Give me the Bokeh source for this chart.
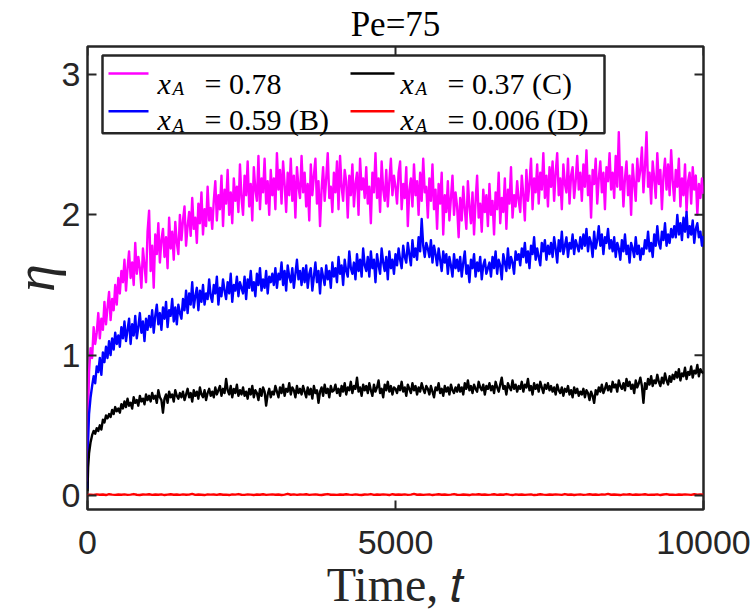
import math
from bokeh.plotting import figure
from bokeh.models import Range1d, FixedTicker, Label, BoxAnnotation, Arrow
from bokeh.embed import file_html
from bokeh.resources import INLINE

# ---------------- data ----------------
TITLE = "Pe=75"
X_LABEL = "Time, 𝑡"
Y_LABEL = "η"
X_TICKS = [0, 5000, 10000]
Y_TICKS = [0, 1, 2, 3]

time = [0, 10] + list(range(25, 10001, 25))
time_coarse = [0, 10, 25] + list(range(50, 10001, 50))

eta_078 = [0.10, 0.60,
    0.88, 1.05, 0.98, 1.20, 1.08, 1.16, 1.30, 1.12, 1.26, 1.18, 1.38, 1.22, 1.34, 1.45, 1.25, 1.40, 1.32, 1.50, 1.36, 1.55,
    1.44, 1.60, 1.52, 1.68, 1.46, 1.62, 1.74, 1.55, 1.66, 1.50, 1.80, 1.58, 1.70, 1.62, 1.48, 1.76, 1.64, 1.52, 1.88, 2.03,
    1.60, 1.78, 1.48, 1.86, 1.72, 1.94, 1.66, 1.82, 1.90, 1.70, 1.84, 1.62, 1.98, 1.76, 1.88, 1.68, 1.95, 1.80, 1.72, 2.00,
    1.82, 1.96, 2.06, 1.78, 1.92, 2.02, 1.85, 2.12, 1.90, 1.98, 1.80, 2.08, 1.94, 2.16, 1.86, 2.04, 1.92, 2.20, 1.96, 2.05,
    1.90, 2.10, 2.24, 1.96, 2.14, 2.04, 2.28, 1.92, 2.18, 2.08, 2.32, 2.00, 2.16, 1.94, 2.26, 2.10, 2.20, 2.02, 2.36, 2.12,
    2.00, 2.28, 2.14, 2.38, 2.06, 2.22, 1.96, 2.34, 2.18, 2.10, 2.42, 2.04, 2.26, 2.16, 2.40, 2.08, 2.24, 2.00, 2.32, 2.14,
    2.26, 2.04, 2.44, 2.18, 2.32, 2.08, 2.38, 2.22, 2.02, 2.30, 2.14, 2.40, 2.10, 2.28, 1.98, 2.34, 2.20, 2.12, 2.42, 2.16,
    2.30, 2.06, 2.22, 1.96, 2.36, 2.14, 2.28, 2.40, 2.08, 2.24, 1.92, 2.18, 2.34, 2.10, 2.26, 2.44, 2.12, 2.20, 2.02, 2.30,
    2.16, 2.38, 2.04, 2.42, 2.20, 2.10, 2.32, 2.24, 1.98, 2.28, 2.14, 2.36, 2.06, 2.22, 2.30, 2.00, 2.40, 2.18, 2.26, 2.12,
    2.34, 2.08, 2.20, 1.94, 2.30, 2.16, 2.44, 2.12, 2.26, 2.02, 2.38, 2.18, 2.10, 2.32, 2.06, 2.24, 2.40, 2.14, 2.28, 2.20,
    2.08, 2.30, 2.38, 2.04, 2.22, 2.12, 2.34, 1.92, 2.18, 2.26, 2.06, 2.36, 2.14, 2.24, 2.00, 2.30, 2.10, 2.40, 2.16, 2.20,
    1.98, 2.26, 2.10, 2.36, 2.04, 2.18, 1.90, 2.22, 2.08, 2.30, 1.86, 2.14, 2.02, 2.24, 1.96, 2.12, 2.28, 2.00, 2.16, 2.06,
    1.84, 2.12, 1.96, 2.20, 2.04, 1.90, 2.24, 2.06, 1.94, 2.16, 1.86, 2.10, 2.28, 1.98, 2.08, 1.88, 2.18, 2.02, 2.14, 1.92,
    2.22, 2.00, 2.10, 1.86, 2.16, 2.04, 2.30, 1.94, 2.12, 2.02, 2.26, 1.90, 2.18, 2.08, 2.34, 1.98, 2.14, 2.06, 2.24, 2.10,
    2.02, 2.28, 2.14, 1.96, 2.32, 2.10, 2.22, 2.40, 2.04, 2.26, 2.16, 2.36, 2.08, 2.30, 2.18, 2.44, 2.12, 2.28, 2.06, 2.34,
    2.20, 2.38, 2.10, 2.30, 2.44, 2.14, 2.26, 2.04, 2.36, 2.22, 2.16, 2.40, 2.08, 2.28, 2.34, 2.12, 2.24, 2.42, 2.18, 2.30,
    2.10, 2.36, 2.20, 2.46, 2.14, 2.28, 1.98, 2.32, 2.22, 2.40, 2.08, 2.26, 2.38, 2.16, 2.30, 2.04, 2.34, 2.24, 2.44, 2.18,
    2.30, 2.12, 2.42, 2.20, 2.59, 2.18, 2.34, 2.06, 2.26, 2.38, 2.14, 2.28, 2.00, 2.36, 2.22, 2.10, 2.40, 2.24, 2.32, 2.48,
    2.16, 2.34, 2.59, 2.20, 2.30, 2.08, 2.38, 2.26, 2.12, 2.44, 2.22, 2.32, 2.04, 2.28, 2.40, 2.18, 2.36, 2.14, 2.46, 2.24,
    2.10, 2.32, 2.20, 2.40, 2.06, 2.26, 2.14, 2.36, 2.02, 2.24, 2.30, 2.08, 2.34, 2.18, 2.28, 2.00, 2.22, 2.12, 2.26, 2.15]

eta_059 = [0.05, 0.40,
    0.58, 0.70, 0.78, 0.85, 0.80, 0.92, 0.88, 0.98, 0.86, 1.02, 0.95, 1.06, 0.98, 1.10, 1.00, 1.12, 1.04, 1.16, 1.08, 1.14,
    1.06, 1.20, 1.12, 1.24, 1.10, 1.18, 1.26, 1.08, 1.22, 1.14, 1.28, 1.12, 1.20, 1.30, 1.16, 1.24, 1.10, 1.26, 1.18, 1.28,
    1.20, 1.32, 1.16, 1.28, 1.36, 1.22, 1.30, 1.18, 1.34, 1.26, 1.38, 1.20, 1.32, 1.28, 1.40, 1.24, 1.34, 1.22, 1.36, 1.30,
    1.26, 1.40, 1.32, 1.46, 1.30, 1.44, 1.36, 1.52, 1.34, 1.42, 1.48, 1.32, 1.46, 1.38, 1.50, 1.36, 1.44, 1.40, 1.54, 1.42,
    1.38, 1.50, 1.44, 1.56, 1.36, 1.48, 1.42, 1.54, 1.46, 1.40, 1.52, 1.44, 1.58, 1.38, 1.50, 1.46, 1.56, 1.42, 1.52, 1.48,
    1.44, 1.56, 1.40, 1.54, 1.48, 1.60, 1.46, 1.52, 1.42, 1.58, 1.50, 1.62, 1.46, 1.54, 1.48, 1.60, 1.44, 1.56, 1.52, 1.58,
    1.50, 1.62, 1.48, 1.58, 1.54, 1.66, 1.50, 1.60, 1.46, 1.64, 1.56, 1.52, 1.62, 1.48, 1.58, 1.68, 1.54, 1.60, 1.50, 1.62,
    1.52, 1.64, 1.48, 1.58, 1.62, 1.46, 1.56, 1.66, 1.52, 1.60, 1.44, 1.62, 1.56, 1.50, 1.64, 1.54, 1.60, 1.48, 1.66, 1.56,
    1.62, 1.52, 1.70, 1.58, 1.64, 1.50, 1.68, 1.60, 1.56, 1.74, 1.62, 1.58, 1.66, 1.54, 1.72, 1.60, 1.68, 1.56, 1.76, 1.64,
    1.60, 1.70, 1.56, 1.74, 1.62, 1.68, 1.52, 1.72, 1.64, 1.58, 1.76, 1.66, 1.60, 1.70, 1.54, 1.74, 1.62, 1.68, 1.58, 1.72,
    1.64, 1.76, 1.68, 1.62, 1.78, 1.70, 1.66, 1.80, 1.72, 1.64, 1.82, 1.70, 1.76, 1.68, 1.84, 1.74, 1.97, 1.78, 1.70, 1.80,
    1.76, 1.70, 1.82, 1.66, 1.78, 1.72, 1.64, 1.76, 1.68, 1.60, 1.74, 1.66, 1.72, 1.58, 1.70, 1.64, 1.56, 1.72, 1.62, 1.68,
    1.60, 1.70, 1.56, 1.66, 1.74, 1.58, 1.64, 1.52, 1.68, 1.62, 1.72, 1.56, 1.66, 1.60, 1.70, 1.54, 1.64, 1.68, 1.58, 1.62,
    1.66, 1.56, 1.70, 1.62, 1.74, 1.58, 1.68, 1.64, 1.54, 1.72, 1.66, 1.60, 1.76, 1.62, 1.70, 1.66, 1.58, 1.74, 1.68, 1.72,
    1.64, 1.76, 1.70, 1.80, 1.66, 1.74, 1.62, 1.78, 1.72, 1.84, 1.68, 1.76, 1.70, 1.64, 1.80, 1.74, 1.82, 1.68, 1.78, 1.72,
    1.80, 1.70, 1.84, 1.76, 1.66, 1.82, 1.74, 1.88, 1.72, 1.78, 1.84, 1.70, 1.80, 1.76, 1.86, 1.72, 1.82, 1.78, 1.74, 1.84,
    1.76, 1.86, 1.78, 1.90, 1.74, 1.84, 1.80, 1.70, 1.88, 1.76, 1.82, 1.92, 1.78, 1.86, 1.72, 1.84, 1.80, 1.90, 1.76, 1.82,
    1.74, 1.84, 1.70, 1.80, 1.76, 1.68, 1.82, 1.74, 1.86, 1.72, 1.78, 1.66, 1.80, 1.76, 1.70, 1.84, 1.72, 1.78, 1.68, 1.76,
    1.72, 1.82, 1.76, 1.88, 1.74, 1.80, 1.70, 1.86, 1.78, 1.92, 1.80, 1.76, 1.88, 1.82, 1.94, 1.78, 1.86, 1.80, 1.90, 1.84,
    1.92, 1.84, 2.00, 1.86, 1.94, 1.82, 1.98, 1.88, 2.02, 1.84, 1.92, 1.86, 1.96, 1.80, 1.90, 1.94, 1.84, 1.88, 1.78, 1.85]

eta_037 = [0.03, 0.20,
    0.30, 0.38, 0.43, 0.46, 0.44, 0.48, 0.46, 0.50, 0.47, 0.54, 0.52, 0.57, 0.55, 0.58, 0.56, 0.61, 0.58, 0.63, 0.60, 0.62,
    0.59, 0.65, 0.62, 0.67, 0.63, 0.69, 0.64, 0.66, 0.62, 0.70, 0.66, 0.68, 0.64, 0.71, 0.67, 0.69, 0.65, 0.72, 0.68, 0.71,
    0.67, 0.73, 0.69, 0.71, 0.66, 0.75, 0.70, 0.68, 0.59, 0.69, 0.72, 0.66, 0.74, 0.70, 0.72, 0.67, 0.75, 0.71, 0.69, 0.73,
    0.70, 0.74, 0.68, 0.72, 0.76, 0.70, 0.73, 0.67, 0.75, 0.71, 0.74, 0.69, 0.77, 0.72, 0.70, 0.75, 0.68, 0.73, 0.76, 0.71,
    0.74, 0.70, 0.77, 0.72, 0.75, 0.78, 0.71, 0.76, 0.73, 0.83, 0.75, 0.72, 0.78, 0.70, 0.76, 0.73, 0.79, 0.71, 0.75, 0.72,
    0.77, 0.71, 0.74, 0.69, 0.76, 0.72, 0.78, 0.70, 0.75, 0.73, 0.68, 0.76, 0.71, 0.77, 0.74, 0.64, 0.72, 0.76, 0.70, 0.74,
    0.72, 0.78, 0.74, 0.70, 0.77, 0.73, 0.79, 0.71, 0.76, 0.74, 0.80, 0.72, 0.77, 0.75, 0.70, 0.78, 0.73, 0.76, 0.72, 0.78,
    0.74, 0.70, 0.77, 0.72, 0.76, 0.69, 0.78, 0.73, 0.75, 0.66, 0.74, 0.77, 0.71, 0.79, 0.73, 0.76, 0.70, 0.78, 0.74, 0.75,
    0.79, 0.73, 0.76, 0.71, 0.78, 0.74, 0.80, 0.72, 0.77, 0.75, 0.81, 0.73, 0.78, 0.76, 0.84, 0.74, 0.77, 0.71, 0.79, 0.75,
    0.78, 0.73, 0.80, 0.75, 0.71, 0.79, 0.74, 0.77, 0.82, 0.73, 0.76, 0.70, 0.79, 0.75, 0.81, 0.74, 0.78, 0.72, 0.77, 0.76,
    0.73, 0.78, 0.75, 0.81, 0.74, 0.77, 0.71, 0.79, 0.76, 0.73, 0.80, 0.75, 0.78, 0.72, 0.77, 0.74, 0.80, 0.76, 0.73, 0.78,
    0.76, 0.72, 0.78, 0.74, 0.70, 0.77, 0.75, 0.80, 0.73, 0.76, 0.71, 0.78, 0.74, 0.77, 0.72, 0.79, 0.75, 0.73, 0.77, 0.74,
    0.79, 0.74, 0.77, 0.72, 0.80, 0.76, 0.82, 0.75, 0.78, 0.73, 0.79, 0.76, 0.74, 0.81, 0.77, 0.75, 0.79, 0.72, 0.78, 0.76,
    0.80, 0.75, 0.78, 0.73, 0.81, 0.77, 0.74, 0.79, 0.84, 0.76, 0.78, 0.72, 0.80, 0.77, 0.75, 0.82, 0.76, 0.79, 0.74, 0.78,
    0.76, 0.81, 0.74, 0.79, 0.77, 0.83, 0.75, 0.78, 0.72, 0.80, 0.76, 0.79, 0.74, 0.81, 0.77, 0.73, 0.79, 0.76, 0.80, 0.75,
    0.78, 0.74, 0.77, 0.72, 0.79, 0.75, 0.73, 0.77, 0.71, 0.76, 0.74, 0.78, 0.72, 0.75, 0.70, 0.77, 0.73, 0.76, 0.71, 0.74,
    0.72, 0.76, 0.70, 0.75, 0.73, 0.68, 0.74, 0.71, 0.66, 0.75, 0.72, 0.77, 0.74, 0.79, 0.73, 0.76, 0.80, 0.75, 0.78, 0.74,
    0.81, 0.77, 0.79, 0.74, 0.82, 0.78, 0.76, 0.80, 0.75, 0.83, 0.78, 0.81, 0.76, 0.79, 0.73, 0.82, 0.77, 0.80, 0.84, 0.78,
    0.66, 0.80, 0.76, 0.83, 0.79, 0.85, 0.78, 0.82, 0.80, 0.86, 0.81, 0.78, 0.84, 0.80, 0.87, 0.82, 0.79, 0.85, 0.81, 0.86,
    0.83, 0.88, 0.84, 0.90, 0.82, 0.87, 0.85, 0.91, 0.83, 0.88, 0.86, 0.92, 0.84, 0.89, 0.87, 0.93, 0.85, 0.90, 0.88, 0.87]

eta_0006 = [0.000, 0.003, 0.005,
    0.006, 0.004, 0.008, 0.005, 0.007, 0.003, 0.009, 0.006, 0.004, 0.007,
    0.005, 0.008, 0.004, 0.006, 0.010, 0.005, 0.003, 0.007, 0.006, 0.009,
    0.004, 0.007, 0.005, 0.008, 0.003, 0.006, 0.009, 0.005, 0.007, 0.004,
    0.008, 0.005, 0.006, 0.011, 0.004, 0.007, 0.005, 0.003, 0.008, 0.006,
    0.007, 0.004, 0.009, 0.005, 0.006, 0.003, 0.008, 0.006, 0.010, 0.005,
    0.004, 0.008, 0.006, 0.003, 0.007, 0.005, 0.009, 0.004, 0.006, 0.008,
    0.005, 0.007, 0.003, 0.006, 0.012, 0.005, 0.008, 0.004, 0.007, 0.006,
    0.009, 0.004, 0.006, 0.008, 0.005, 0.003, 0.007, 0.010, 0.005, 0.006,
    0.004, 0.007, 0.005, 0.009, 0.006, 0.004, 0.008, 0.005, 0.003, 0.007,
    0.006, 0.010, 0.004, 0.007, 0.005, 0.008, 0.006, 0.003, 0.009, 0.005,
    0.007, 0.005, 0.008, 0.004, 0.006, 0.011, 0.005, 0.007, 0.004, 0.006,
    0.008, 0.003, 0.006, 0.009, 0.005, 0.007, 0.004, 0.006, 0.010, 0.005,
    0.004, 0.007, 0.005, 0.003, 0.008, 0.006, 0.009, 0.005, 0.007, 0.004,
    0.006, 0.009, 0.004, 0.007, 0.005, 0.010, 0.006, 0.003, 0.008, 0.005,
    0.007, 0.004, 0.006, 0.008, 0.003, 0.005, 0.009, 0.006, 0.004, 0.007,
    0.005, 0.008, 0.006, 0.004, 0.010, 0.005, 0.007, 0.003, 0.006, 0.008,
    0.004, 0.006, 0.009, 0.005, 0.007, 0.004, 0.008, 0.006, 0.011, 0.005,
    0.007, 0.005, 0.003, 0.008, 0.006, 0.009, 0.004, 0.007, 0.005, 0.006,
    0.009, 0.004, 0.006, 0.005, 0.008, 0.003, 0.007, 0.010, 0.005, 0.006,
    0.004, 0.007, 0.005, 0.008, 0.006, 0.004, 0.009, 0.005, 0.007, 0.006]

series_values = ["0.78", "0.59 (B)", "0.37 (C)", "0.006 (D)"]
series_colors = ["#FF00FF", "#0000FF", "#000000", "#FF0000"]
series_data = [(time, eta_078), (time, eta_059), (time, eta_037), (time_coarse, eta_0006)]

for tt, ys in series_data:
    assert len(tt) == len(ys), (len(tt), len(ys))

# ---------------- layout helpers (page pixels -> data) ----------------
W, H = 756, 614
FL, FR, FT, FB = 87, 703, 45, 509
X0, X1, Y0, Y1 = 0, 10000, -0.1, 3.2

def dx(px):
    return X0 + (px - FL) / (FR - FL) * (X1 - X0)

def dy(py):
    return Y1 - (py - FT) / (FB - FT) * (Y1 - Y0)

AX = "#262626"
SERIF = "Liberation Serif"

p = figure(width=W, height=H, output_backend="svg", toolbar_location=None,
           x_range=Range1d(X0, X1), y_range=Range1d(Y0, Y1),
           min_border_left=FL, min_border_right=W - FR,
           min_border_top=FT, min_border_bottom=H - FB)
p.grid.visible = False
p.background_fill_color = "white"
p.border_fill_color = "white"
p.outline_line_color = AX
p.outline_line_width = 2.5
p.outline_line_alpha = 1.0

p.title.text = TITLE
p.title.align = "center"
p.title.text_font = SERIF
p.title.text_font_size = "35px"
p.title.text_font_style = "normal"
p.title.text_color = "#000000"
p.title.standoff = 5

for ax in p.axis:
    ax.axis_line_color = None
    ax.major_tick_in = 9
    ax.major_tick_out = 0
    ax.minor_tick_line_color = None
    ax.major_tick_line_color = AX
    ax.major_tick_line_width = 2
    ax.major_label_text_font = "Liberation Sans"
    ax.major_label_text_font_size = "34px"
    ax.major_label_text_color = AX
    ax.axis_label_text_color = AX

p.xaxis.ticker = FixedTicker(ticks=X_TICKS)
p.yaxis.ticker = FixedTicker(ticks=Y_TICKS)
p.xaxis.major_label_standoff = 21
p.yaxis.major_label_standoff = 7

p.xaxis.axis_label = X_LABEL
p.xaxis.axis_label_text_font = SERIF
p.xaxis.axis_label_text_font_size = "48px"
p.xaxis.axis_label_text_font_style = "normal"
p.xaxis.axis_label_standoff = 1

p.yaxis.axis_label = Y_LABEL
p.yaxis.axis_label_text_font = SERIF
p.yaxis.axis_label_text_font_size = "56px"
p.yaxis.axis_label_text_font_style = "italic"
p.yaxis.axis_label_standoff = -7

# top and right inward ticks (box on)
tick_dy = 9 / (FB - FT) * (Y1 - Y0)
tick_dx = 9 / (FR - FL) * (X1 - X0)
for xt in X_TICKS:
    p.add_layout(Arrow(end=None, x_start=xt, x_end=xt, y_start=Y1, y_end=Y1 - tick_dy,
                       line_color=AX, line_width=2))
for yt in Y_TICKS:
    p.add_layout(Arrow(end=None, x_start=X1, x_end=X1 - tick_dx, y_start=yt, y_end=yt,
                       line_color=AX, line_width=2))

for (tt, ys), col in zip(series_data, series_colors):
    p.line(tt, ys, line_color=col, line_width=2.4, line_join="round")

# legend
p.add_layout(BoxAnnotation(left=dx(102), right=dx(604), top=dy(54), bottom=dy(132),
                           fill_color="white", fill_alpha=1.0,
                           line_color=AX, line_width=2.5, line_alpha=1.0))

col_line = [(108, 148), (350, 394)]
col_x = [157, 400]
col_sub = [172, 415]
col_eq = [204, 447]
row_line = [72, 110]
row_base = [82, 118]
row_sub = [87, 124]
slots = [(0, 0), (0, 1), (1, 0), (1, 1)]

for (c, r), val, col in zip(slots, series_values, series_colors):
    p.add_layout(Arrow(end=None, x_start=dx(col_line[c][0]), x_end=dx(col_line[c][1]),
                       y_start=dy(row_line[r]), y_end=dy(row_line[r]),
                       line_color=col, line_width=2.5))
    p.add_layout(Label(x=dx(col_x[c]), y=dy(row_base[r]), text="x",
                       text_baseline="alphabetic", text_font=SERIF,
                       text_font_style="italic", text_font_size="30px",
                       text_color="#000000"))
    p.add_layout(Label(x=dx(col_sub[c]), y=dy(row_sub[r]), text="A",
                       text_baseline="alphabetic", text_font=SERIF,
                       text_font_style="italic", text_font_size="19px",
                       text_color="#000000"))
    p.add_layout(Label(x=dx(col_eq[c]), y=dy(row_base[r]), text="= " + val,
                       text_baseline="alphabetic", text_font=SERIF,
                       text_font_size="30px", text_color="#000000"))

open("out.html", "w").write(file_html(p, INLINE))
